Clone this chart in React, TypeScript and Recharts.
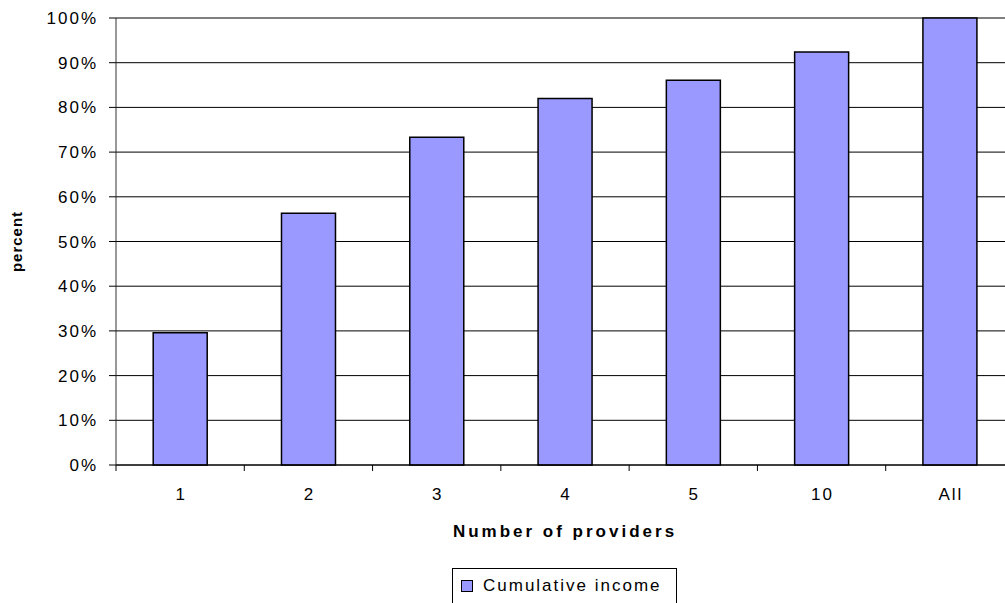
import { BarChart, Bar, XAxis, YAxis, CartesianGrid, Legend } from "recharts"

const categories = ["1", "2", "3", "4", "5", "10", "All"]
const cumulativeIncome = [29.6, 56.3, 73.3, 82.0, 86.1, 92.4, 100]
const yTicks = [0, 10, 20, 30, 40, 50, 60, 70, 80, 90, 100]

const data = categories.map((providers, i) => ({ providers, income: cumulativeIncome[i] }))

const W = 1030
const H = 604
const PLOT_LEFT = 116
const PLOT_RIGHT = 1014
const PLOT_TOP = 18
const PLOT_BOTTOM = 465
const BAND = (PLOT_RIGHT - PLOT_LEFT) / categories.length

const font = "'Liberation Sans', Arial, sans-serif"
const barFill = "#9999ff"

const XTick = (props: any) => {
  const { x, y, payload } = props
  const bx = x - BAND / 2
  return (
    <g>
      <line x1={bx} x2={bx} y1={PLOT_BOTTOM} y2={PLOT_BOTTOM + 6} stroke="#000" />
      <text x={x + 1} y={y} dy="0.71em" textAnchor="middle" fontFamily={font} fontSize={17} letterSpacing={2} fill="#000">
        {payload.value}
      </text>
    </g>
  )
}

const LegendBox = () => (
  <div
    style={{
      display: "inline-flex",
      alignItems: "center",
      boxSizing: "border-box",
      height: 36,
      border: "1px solid #000",
      padding: "0 14px 0 8px",
      background: "#fff",
      fontFamily: font,
      fontSize: 17,
      letterSpacing: 2,
      color: "#000",
    }}
  >
    <span style={{ width: 10, height: 10, background: barFill, border: "1px solid #000", marginRight: 10 }} />
    <span>Cumulative income</span>
  </div>
)

export default function App() {
  return (
    <div style={{ position: "absolute", left: 0, top: 0, width: 1005, height: 603, overflow: "hidden", background: "#fff" }}>
      <BarChart
        width={W}
        height={H}
        data={data}
        barCategoryGap="29%"
        margin={{ top: PLOT_TOP, right: W - PLOT_RIGHT, bottom: 0, left: 0 }}
      >
        <CartesianGrid vertical={false} stroke="#000" strokeOpacity={1} />
        <XAxis
          dataKey="providers"
          height={H - 36 - PLOT_BOTTOM}
          axisLine={{ stroke: "#000" }}
          tickLine={false}
          tickSize={6}
          tickMargin={17}
          tick={<XTick />}
          label={{
            value: "Number of providers",
            position: "insideBottom",
            offset: 31,
            style: { fontFamily: font, fontSize: 17, fontWeight: "bold", letterSpacing: 3, fill: "#000" },
          }}
        />
        <YAxis
          width={PLOT_LEFT}
          domain={[0, 100]}
          ticks={yTicks}
          interval={0}
          tickFormatter={(v: number) => `${v}%`}
          axisLine={{ stroke: "#333" }}
          tickLine={{ stroke: "#000" }}
          tickSize={7}
          tickMargin={11}
          tick={{ fontFamily: font, fontSize: 17, letterSpacing: 2, fill: "#000" }}
          label={{
            value: "percent",
            angle: -90,
            position: "insideLeft",
            offset: 17,
            style: { textAnchor: "middle", fontFamily: font, fontSize: 15, fontWeight: "bold", letterSpacing: 1, fill: "#000" },
          }}
        />
        <Legend
          verticalAlign="bottom"
          content={<LegendBox />}
          wrapperStyle={{ left: 452, width: "auto", bottom: 0 }}
        />
        <Bar dataKey="income" name="Cumulative income" fill={barFill} stroke="#000" strokeWidth={1.5} isAnimationActive={false} />
      </BarChart>
    </div>
  )
}
